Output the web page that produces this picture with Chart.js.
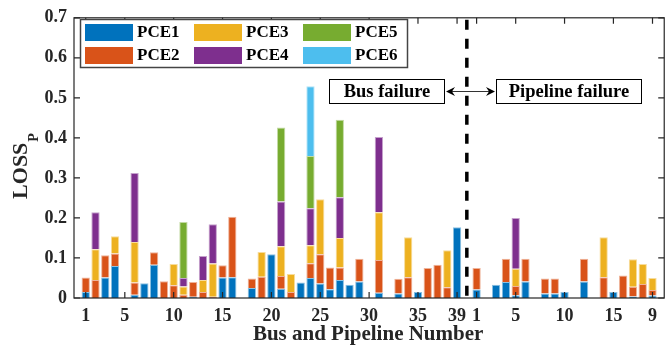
<!DOCTYPE html>
<html>
<head>
<meta charset="utf-8">
<script src="https://cdn.jsdelivr.net/npm/chart.js@4.4.1/dist/chart.umd.min.js"></script>
<style>
  html, body { margin: 0; padding: 0; background: #fff; }
  #wrap { width: 665px; height: 351px; }
</style>
</head>
<body>
<div id="wrap"><canvas id="myChart" width="665" height="351"></canvas></div>
<script>
// 39 buses, then a gap slot (divider), then 19 pipelines
const busCount = 39;
const pipelineCount = 19;
const dividerPos = 40;

const seriesNames = ['PCE1', 'PCE2', 'PCE3', 'PCE4', 'PCE5', 'PCE6'];
const seriesColors = ['#0072BD', '#D95319', '#EDB120', '#7E2F8E', '#77AC30', '#4DBEEE'];

// first 39 values = buses 1..39, last 19 values = pipelines 1..19
const pce1 = [
  0.015, 0, 0.051, 0.080, 0, 0.008, 0.037, 0.083, 0, 0,
  0, 0.003, 0, 0, 0.051, 0.052, 0, 0.025, 0, 0.109,
  0.023, 0, 0.039, 0.050, 0.036, 0.022, 0.045, 0.033, 0.041, 0,
  0.013, 0, 0.011, 0, 0.015, 0, 0, 0, 0.177,
  0.021, 0, 0.033, 0.040, 0.007, 0.041, 0, 0.011, 0.011, 0.015,
  0, 0.041, 0, 0, 0.015, 0, 0.004, 0, 0.006
];
const pce2 = [
  0.036, 0.045, 0.056, 0.031, 0, 0.031, 0, 0.031, 0.042, 0.032,
  0.008, 0.037, 0.015, 0.003, 0.031, 0.151, 0, 0.024, 0.053, 0,
  0.032, 0.015, 0, 0.037, 0.073, 0.054, 0.031, 0, 0.057, 0,
  0.082, 0, 0.037, 0.052, 0, 0.075, 0.083, 0.027, 0,
  0.054, 0, 0, 0.058, 0.023, 0.057, 0, 0.038, 0.038, 0,
  0, 0.057, 0, 0.052, 0, 0.056, 0.024, 0.035, 0.014
];
const pce3 = [
  0, 0.077, 0, 0.043, 0, 0.101, 0, 0, 0, 0.053,
  0.021, 0, 0.030, 0.083, 0, 0, 0, 0, 0.062, 0,
  0.074, 0.045, 0, 0.045, 0.138, 0, 0.074, 0, 0, 0,
  0.119, 0, 0, 0.100, 0, 0, 0, 0.092, 0,
  0, 0, 0, 0, 0.043, 0, 0, 0, 0, 0,
  0, 0, 0, 0.100, 0, 0, 0.069, 0.050, 0.030
];
const pce4 = [
  0, 0.092, 0, 0, 0, 0.172, 0, 0, 0, 0,
  0.021, 0, 0.060, 0.098, 0, 0, 0, 0, 0, 0,
  0.112, 0, 0, 0.092, 0, 0, 0.102, 0, 0, 0,
  0.188, 0, 0, 0, 0, 0, 0, 0, 0,
  0, 0, 0, 0, 0.127, 0, 0, 0, 0, 0,
  0, 0, 0, 0, 0, 0, 0, 0, 0
];
const pce5 = [
  0, 0, 0, 0, 0, 0, 0, 0, 0, 0,
  0.140, 0, 0, 0, 0, 0, 0, 0, 0, 0,
  0.185, 0, 0, 0.131, 0, 0, 0.193, 0, 0, 0,
  0, 0, 0, 0, 0, 0, 0, 0, 0,
  0, 0, 0, 0, 0, 0, 0, 0, 0, 0,
  0, 0, 0, 0, 0, 0, 0, 0, 0
];
const pce6 = [
  0, 0, 0, 0, 0, 0, 0, 0, 0, 0,
  0, 0, 0, 0, 0, 0, 0, 0, 0, 0,
  0, 0, 0, 0.174, 0, 0, 0, 0, 0, 0,
  0, 0, 0, 0, 0, 0, 0, 0, 0,
  0, 0, 0, 0, 0, 0, 0, 0, 0, 0,
  0, 0, 0, 0, 0, 0, 0, 0, 0
];
const seriesValues = [pce1, pce2, pce3, pce4, pce5, pce6];

// x tick marks and their labels
const xTickPositions = [1, 5, 10, 15, 20, 25, 30, 35, 39, 41, 45, 50, 55, 59];
const xTickLabels = ['1', '5', '10', '15', '20', '25', '30', '35', '39', '1', '5', '10', '15', '9'];
const yTickValues = [0, 0.1, 0.2, 0.3, 0.4, 0.5, 0.6, 0.7];

const FONT = '"Liberation Serif", "Times New Roman", serif';
const INK = '#262626';

function slotOf(i) {
  return i < busCount ? i + 1 : i + 2; // skip the divider slot
}

function lighten(hex, t) {
  const n = parseInt(hex.slice(1), 16);
  const r = (n >> 16) & 255, g = (n >> 8) & 255, b = n & 255;
  const m = c => Math.round(c + (255 - c) * t);
  return 'rgb(' + m(r) + ',' + m(g) + ',' + m(b) + ')';
}

const datasets = seriesNames.map((name, k) => ({
  label: name,
  stack: 'loss',
  data: seriesValues[k].map((v, i) => ({ x: slotOf(i), y: v > 0 ? v : null })),
  backgroundColor: seriesColors[k],
  borderColor: lighten(seriesColors[k], 0.55),
  borderWidth: 1,
  borderSkipped: 'start',
  barPercentage: 0.85,
  categoryPercentage: 1,
}));

// axis box, inward ticks, divider, legend and the two text boxes
const decorations = {
  id: 'decorations',
  afterDatasetsDraw(chart) {
    const { ctx, chartArea: a, scales: { x, y } } = chart;
    const left = x.getPixelForValue(-0.2);
    const right = x.getPixelForValue(60.2);
    ctx.save();

    // divider between bus and pipeline part
    const xd = x.getPixelForValue(dividerPos);
    ctx.strokeStyle = '#000';
    ctx.lineWidth = 3.5;
    ctx.setLineDash([10, 9]);
    ctx.beginPath();
    ctx.moveTo(xd, a.top + 2);
    ctx.lineTo(xd, a.bottom);
    ctx.stroke();
    ctx.setLineDash([]);

    // axis box
    ctx.strokeStyle = INK;
    ctx.lineWidth = 1.2;
    ctx.strokeRect(left, a.top, right - left, a.bottom - a.top);

    // inward ticks
    const tl = 6;
    ctx.beginPath();
    xTickPositions.forEach(p => {
      const px = x.getPixelForValue(p);
      ctx.moveTo(px, a.bottom); ctx.lineTo(px, a.bottom - tl);
      ctx.moveTo(px, a.top); ctx.lineTo(px, a.top + tl);
    });
    yTickValues.forEach(v => {
      const py = y.getPixelForValue(v);
      ctx.moveTo(left, py); ctx.lineTo(left + tl, py);
      ctx.moveTo(right, py); ctx.lineTo(right - tl, py);
    });
    ctx.stroke();

    // legend (two rows, column order)
    ctx.fillStyle = '#fff';
    ctx.fillRect(80, 19, 328, 49);
    ctx.strokeStyle = '#444';
    ctx.lineWidth = 1.5;
    ctx.strokeRect(80.5, 19.5, 327, 48);
    const cols = [85, 194, 303];
    const rows = [24, 47];
    ctx.font = 'bold 17px ' + FONT;
    ctx.textBaseline = 'middle';
    ctx.textAlign = 'left';
    chart.data.datasets.forEach((ds, k) => {
      const cx = cols[Math.floor(k / 2)];
      const cy = rows[k % 2];
      ctx.fillStyle = ds.backgroundColor;
      ctx.fillRect(cx, cy, 48, 17);
      ctx.fillStyle = '#000';
      ctx.fillText(ds.label, cx + 52, cy + 9);
    });

    // "Bus failure" <-> "Pipeline failure"
    ctx.font = 'bold 18.5px ' + FONT;
    ctx.textAlign = 'center';
    ctx.fillStyle = '#fff';
    ctx.fillRect(329, 79, 115, 24);
    ctx.fillRect(496, 79, 145, 24);
    ctx.strokeStyle = '#000';
    ctx.lineWidth = 1;
    ctx.strokeRect(329.5, 79.5, 115, 24);
    ctx.strokeRect(496.5, 79.5, 145, 24);
    ctx.fillStyle = '#000';
    ctx.fillText('Bus failure', 387, 92);
    ctx.fillText('Pipeline failure', 569, 92);

    const ay = 91.5;
    ctx.strokeStyle = '#333';
    ctx.lineWidth = 1;
    ctx.beginPath();
    ctx.moveTo(450, ay); ctx.lineTo(490, ay);
    ctx.stroke();
    ctx.fillStyle = '#000';
    ctx.beginPath();
    ctx.moveTo(446, ay); ctx.lineTo(455, ay - 4.5); ctx.lineTo(452, ay); ctx.lineTo(455, ay + 4.5);
    ctx.closePath(); ctx.fill();
    ctx.beginPath();
    ctx.moveTo(495, ay); ctx.lineTo(486, ay - 4.5); ctx.lineTo(489, ay); ctx.lineTo(486, ay + 4.5);
    ctx.closePath(); ctx.fill();

    // y axis title LOSS with subscript P
    ctx.save();
    ctx.translate(27, 0);
    ctx.rotate(-Math.PI / 2);
    ctx.textAlign = 'left';
    ctx.textBaseline = 'alphabetic';
    ctx.fillStyle = INK;
    ctx.font = 'bold 22px ' + FONT;
    const wL = ctx.measureText('LOSS').width;
    ctx.font = 'bold 14px ' + FONT;
    const wP = ctx.measureText('P').width;
    const u0 = -(166 + (wL + 1 + wP) / 2);
    ctx.font = 'bold 22px ' + FONT;
    ctx.fillText('LOSS', u0, 0);
    ctx.font = 'bold 14px ' + FONT;
    ctx.fillText('P', u0 + wL + 1, 11);
    ctx.restore();

    ctx.restore();
  }
};

window.onload = function() {
  const ctx = document.getElementById('myChart').getContext('2d');
  new Chart(ctx, {
    type: 'bar',
    data: { datasets: datasets },
    options: {
      responsive: false,
      animation: false,
      devicePixelRatio: 1,
      layout: { padding: { top: 12, right: 0, left: 0, bottom: 0 } },
      plugins: {
        legend: { display: false },
        tooltip: { enabled: false },
      },
      scales: {
        x: {
          type: 'linear',
          offset: false,
          min: -0.2,
          max: 60,
          grid: { display: false, drawTicks: false },
          border: { display: false },
          afterBuildTicks: scale => {
            scale.ticks = xTickPositions.map(v => ({ value: v }));
          },
          afterFit: scale => { scale.height = 53; },
          ticks: {
            autoSkip: false,
            maxRotation: 0,
            minRotation: 0,
            padding: 8,
            color: INK,
            font: { family: FONT, size: 18, weight: 'bold' },
            callback: (v, i) => xTickLabels[i],
          },
          title: {
            display: true,
            text: 'Bus and Pipeline Number',
            color: INK,
            font: { family: FONT, size: 21, weight: 'bold' },
            padding: { top: 0, bottom: 4 },
          },
        },
        y: {
          stacked: true,
          min: 0,
          max: 0.7,
          grid: { display: false, drawTicks: false },
          border: { display: false },
          afterFit: scale => { scale.width = 74; },
          ticks: {
            stepSize: 0.1,
            padding: 7,
            color: INK,
            font: { family: FONT, size: 18, weight: 'bold' },
            callback: v => (v === 0 ? '0' : v.toFixed(1)),
          },
        },
      },
    },
    plugins: [decorations],
  });
};
</script>
</body>
</html>
